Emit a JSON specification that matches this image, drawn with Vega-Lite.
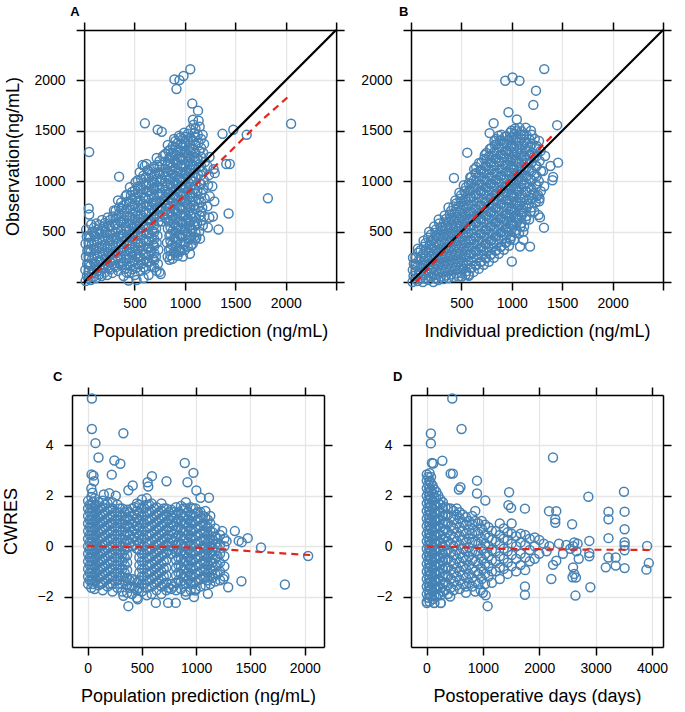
{
"$schema": "https://vega.github.io/schema/vega-lite/v6.json",
"background": "white",
"padding": {"left": 2, "top": 6, "right": 0, "bottom": 0},
"config": {
  "font": "Liberation Sans",
  "view": {"stroke": null},
  "axis": {"labelFontSize": 14, "titleFontSize": 18, "titleFontWeight": "normal", "labelColor": "black", "titleColor": "black", "tickColor": "black", "domainColor": "black", "tickSize": 8, "tickWidth": 1.5, "domainWidth": 1.5, "gridColor": "#e6e6e6", "gridWidth": 1.3, "labelOverlap": false, "labelFlush": false, "labelBound": false, "format": "d"},
  "axisX": {"labelPadding": 6, "titlePadding": 12},
  "axisY": {"labelPadding": 11, "titlePadding": 11},
  "title": {"fontSize": 13, "fontWeight": "bold", "anchor": "start", "frame": "group", "color": "black", "offset": 2},
  "point": {"shape": "circle", "filled": false, "color": "#4682b4", "size": 80, "strokeWidth": 1.5, "opacity": 1}
},
"datasets": {
"diag": [{"x":0,"y":0},{"x":2500,"y":2500}],
"la": [{"x":30,"y":20},{"x":250,"y":205},{"x":500,"y":425},{"x":750,"y":645},{"x":1000,"y":860},{"x":1250,"y":1100},{"x":1500,"y":1345},{"x":1750,"y":1595},{"x":2050,"y":1860}],
"lb": [{"x":50,"y":0},{"x":200,"y":165},{"x":400,"y":385},{"x":600,"y":605},{"x":800,"y":820},{"x":1000,"y":1035},{"x":1200,"y":1250},{"x":1420,"y":1470}],
"lc": [{"x":0,"y":0.02},{"x":250,"y":-0.04},{"x":500,"y":-0.04},{"x":750,"y":-0.03},{"x":1000,"y":-0.06},{"x":1250,"y":-0.12},{"x":1500,"y":-0.2},{"x":1750,"y":-0.27},{"x":2050,"y":-0.35}],
"ld": [{"x":0,"y":-0.02},{"x":500,"y":-0.03},{"x":1000,"y":-0.08},{"x":1500,"y":-0.11},{"x":2000,"y":-0.12},{"x":2500,"y":-0.13},{"x":3000,"y":-0.14},{"x":3500,"y":-0.14},{"x":3950,"y":-0.15}],
"a": [
{"x":15,"y":10},{"x":28,"y":60},{"x":12,"y":120},{"x":30,"y":180},{"x":18,"y":250},{"x":32,"y":310},{"x":14,"y":380},{"x":26,"y":450},{"x":20,"y":520},{"x":45,"y":730},{"x":50,"y":670},{"x":50,"y":1290},
{"x":65,"y":20},{"x":78,"y":90},{"x":62,"y":160},{"x":80,"y":230},{"x":66,"y":300},{"x":76,"y":370},{"x":60,"y":440},{"x":82,"y":500},{"x":70,"y":570},
{"x":118,"y":40},{"x":132,"y":110},{"x":115,"y":175},{"x":135,"y":250},{"x":120,"y":320},{"x":130,"y":390},{"x":112,"y":455},{"x":136,"y":520},{"x":122,"y":580},
{"x":172,"y":60},{"x":188,"y":130},{"x":168,"y":200},{"x":190,"y":270},{"x":176,"y":340},{"x":186,"y":410},{"x":170,"y":480},{"x":192,"y":550},{"x":178,"y":615},
{"x":228,"y":70},{"x":244,"y":140},{"x":222,"y":210},{"x":246,"y":280},{"x":232,"y":350},{"x":240,"y":420},{"x":226,"y":490},{"x":248,"y":560},{"x":234,"y":640},
{"x":282,"y":90},{"x":298,"y":160},{"x":276,"y":230},{"x":300,"y":300},{"x":286,"y":370},{"x":294,"y":440},{"x":280,"y":510},{"x":302,"y":580},{"x":288,"y":650},{"x":296,"y":710},
{"x":338,"y":110},{"x":352,"y":180},{"x":332,"y":250},{"x":356,"y":320},{"x":340,"y":390},{"x":350,"y":460},{"x":334,"y":530},{"x":358,"y":600},{"x":342,"y":670},{"x":348,"y":740},{"x":336,"y":810},{"x":347,"y":1045},
{"x":392,"y":60},{"x":406,"y":130},{"x":388,"y":200},{"x":410,"y":270},{"x":394,"y":340},{"x":404,"y":410},{"x":386,"y":480},{"x":412,"y":550},{"x":396,"y":620},{"x":402,"y":690},{"x":390,"y":760},{"x":410,"y":850},
{"x":448,"y":90},{"x":462,"y":160},{"x":442,"y":230},{"x":466,"y":300},{"x":450,"y":370},{"x":458,"y":440},{"x":444,"y":510},{"x":468,"y":580},{"x":452,"y":650},{"x":460,"y":720},{"x":446,"y":790},{"x":464,"y":860},{"x":454,"y":940},
{"x":502,"y":70},{"x":516,"y":140},{"x":498,"y":210},{"x":520,"y":280},{"x":506,"y":350},{"x":512,"y":420},{"x":496,"y":490},{"x":522,"y":560},{"x":508,"y":630},{"x":514,"y":700},{"x":500,"y":770},{"x":518,"y":840},{"x":504,"y":910},{"x":510,"y":990},
{"x":558,"y":110},{"x":572,"y":180},{"x":552,"y":250},{"x":576,"y":320},{"x":560,"y":390},{"x":568,"y":460},{"x":554,"y":530},{"x":578,"y":600},{"x":562,"y":670},{"x":570,"y":740},{"x":556,"y":810},{"x":574,"y":880},{"x":560,"y":950},{"x":566,"y":1020},{"x":552,"y":1090},{"x":580,"y":1160},{"x":600,"y":1150},{"x":620,"y":1170},
{"x":612,"y":130},{"x":626,"y":200},{"x":606,"y":270},{"x":630,"y":340},{"x":616,"y":410},{"x":622,"y":480},{"x":608,"y":550},{"x":632,"y":620},{"x":614,"y":690},{"x":624,"y":760},{"x":610,"y":830},{"x":628,"y":900},{"x":618,"y":970},{"x":612,"y":1040},{"x":630,"y":1110},{"x":603,"y":1574},
{"x":668,"y":160},{"x":682,"y":230},{"x":662,"y":300},{"x":686,"y":370},{"x":670,"y":440},{"x":678,"y":510},{"x":664,"y":580},{"x":688,"y":650},{"x":672,"y":720},{"x":680,"y":790},{"x":666,"y":860},{"x":684,"y":930},{"x":674,"y":1000},{"x":668,"y":1070},{"x":686,"y":1140},
{"x":718,"y":110},{"x":732,"y":180},{"x":712,"y":250},{"x":736,"y":320},{"x":720,"y":390},{"x":728,"y":460},{"x":714,"y":530},{"x":738,"y":600},{"x":722,"y":670},{"x":730,"y":740},{"x":716,"y":810},{"x":734,"y":880},{"x":724,"y":950},{"x":718,"y":1020},{"x":736,"y":1090},{"x":726,"y":1160},{"x":720,"y":1230},{"x":730,"y":1510},{"x":770,"y":1490},
{"x":760,"y":80},{"x":770,"y":600},{"x":784,"y":670},{"x":764,"y":740},{"x":788,"y":810},{"x":772,"y":880},{"x":780,"y":950},{"x":766,"y":1020},{"x":790,"y":1090},{"x":774,"y":1160},{"x":782,"y":1250},
{"x":828,"y":250},{"x":842,"y":320},{"x":822,"y":390},{"x":846,"y":460},{"x":830,"y":530},{"x":838,"y":600},{"x":824,"y":670},{"x":848,"y":740},{"x":832,"y":810},{"x":840,"y":880},{"x":826,"y":950},{"x":844,"y":1020},{"x":834,"y":1090},{"x":828,"y":1160},{"x":846,"y":1230},{"x":836,"y":1300},{"x":830,"y":1360},{"x":847,"y":220},
{"x":878,"y":230},{"x":892,"y":300},{"x":872,"y":370},{"x":896,"y":440},{"x":880,"y":510},{"x":888,"y":580},{"x":874,"y":650},{"x":898,"y":720},{"x":882,"y":790},{"x":890,"y":860},{"x":876,"y":930},{"x":894,"y":1000},{"x":884,"y":1070},{"x":878,"y":1140},{"x":896,"y":1210},{"x":886,"y":1280},{"x":880,"y":1350},{"x":892,"y":1420},
{"x":928,"y":260},{"x":942,"y":330},{"x":922,"y":400},{"x":946,"y":470},{"x":930,"y":540},{"x":938,"y":610},{"x":924,"y":680},{"x":948,"y":750},{"x":932,"y":820},{"x":940,"y":890},{"x":926,"y":960},{"x":944,"y":1030},{"x":934,"y":1100},{"x":928,"y":1170},{"x":946,"y":1240},{"x":936,"y":1310},{"x":930,"y":1380},{"x":942,"y":1450},
{"x":980,"y":253},{"x":992,"y":370},{"x":972,"y":440},{"x":996,"y":510},{"x":980,"y":580},{"x":988,"y":650},{"x":974,"y":720},{"x":998,"y":790},{"x":982,"y":860},{"x":990,"y":930},{"x":976,"y":1000},{"x":994,"y":1070},{"x":984,"y":1140},{"x":978,"y":1210},{"x":996,"y":1280},{"x":986,"y":1350},{"x":980,"y":1420},{"x":992,"y":1480},
{"x":1028,"y":350},{"x":1042,"y":420},{"x":1022,"y":490},{"x":1046,"y":560},{"x":1030,"y":630},{"x":1038,"y":700},{"x":1024,"y":770},{"x":1048,"y":840},{"x":1032,"y":910},{"x":1040,"y":980},{"x":1026,"y":1050},{"x":1044,"y":1120},{"x":1034,"y":1190},{"x":1028,"y":1260},{"x":1046,"y":1330},{"x":1036,"y":1400},{"x":1030,"y":1470},
{"x":1078,"y":380},{"x":1092,"y":450},{"x":1072,"y":520},{"x":1096,"y":600},{"x":1080,"y":680},{"x":1088,"y":760},{"x":1074,"y":840},{"x":1098,"y":920},{"x":1082,"y":1000},{"x":1090,"y":1080},{"x":1076,"y":1160},{"x":1094,"y":1240},{"x":1084,"y":1320},{"x":1078,"y":1400},{"x":1096,"y":1480},{"x":1086,"y":1560},{"x":1080,"y":1610},
{"x":1113,"y":437},{"x":1142,"y":500},{"x":1122,"y":580},{"x":1146,"y":660},{"x":1130,"y":740},{"x":1138,"y":820},{"x":1124,"y":900},{"x":1148,"y":980},{"x":1132,"y":1060},{"x":1140,"y":1140},{"x":1126,"y":1220},{"x":1144,"y":1300},{"x":1134,"y":1380},{"x":1128,"y":1460},{"x":1146,"y":1540},{"x":1136,"y":1600},
{"x":1178,"y":560},{"x":1192,"y":650},{"x":1172,"y":740},{"x":1196,"y":830},{"x":1180,"y":920},{"x":1188,"y":1010},{"x":1174,"y":1100},{"x":1198,"y":1190},{"x":1182,"y":1280},{"x":1190,"y":1370},{"x":1176,"y":1460},
{"x":1228,"y":540},{"x":1242,"y":640},{"x":1222,"y":750},{"x":1246,"y":850},{"x":1230,"y":960},{"x":1238,"y":1060},{"x":1224,"y":1150},{"x":1244,"y":1240},
{"x":1278,"y":650},{"x":1292,"y":800},{"x":1272,"y":950},{"x":1296,"y":1080},{"x":1284,"y":1120},
{"x":1333,"y":520},{"x":1410,"y":1170},{"x":1445,"y":1170},{"x":1433,"y":680},{"x":1373,"y":1470},{"x":1480,"y":1510},{"x":1613,"y":1460},{"x":2053,"y":1570},{"x":1823,"y":830},
{"x":896,"y":2010},{"x":946,"y":2003},{"x":986,"y":2043},{"x":916,"y":1914},{"x":1053,"y":2110},{"x":1073,"y":1770},{"x":1130,"y":1700},
{"x":950,"y":300},{"x":1000,"y":320},{"x":1050,"y":280},{"x":1100,"y":420},{"x":1150,"y":430},{"x":1060,"y":360},
{"x":440,"y":15},{"x":520,"y":20},{"x":590,"y":40},{"x":640,"y":70},
{"x":45,"y":40},{"x":45,"y":110},{"x":45,"y":180},{"x":45,"y":250},{"x":45,"y":320},{"x":45,"y":390},{"x":45,"y":460},
{"x":97,"y":55},{"x":97,"y":125},{"x":97,"y":195},{"x":97,"y":265},{"x":97,"y":335},{"x":97,"y":405},{"x":97,"y":475},{"x":97,"y":540},
{"x":150,"y":75},{"x":150,"y":145},{"x":150,"y":215},{"x":150,"y":285},{"x":150,"y":355},{"x":150,"y":425},{"x":150,"y":495},{"x":150,"y":565},
{"x":205,"y":95},{"x":205,"y":165},{"x":205,"y":235},{"x":205,"y":305},{"x":205,"y":375},{"x":205,"y":445},{"x":205,"y":515},{"x":205,"y":585},
{"x":258,"y":125},{"x":258,"y":195},{"x":258,"y":265},{"x":258,"y":335},{"x":258,"y":405},{"x":258,"y":475},{"x":258,"y":545},{"x":258,"y":615},
{"x":312,"y":145},{"x":312,"y":215},{"x":312,"y":285},{"x":312,"y":355},{"x":312,"y":425},{"x":312,"y":495},{"x":312,"y":565},{"x":312,"y":635},{"x":312,"y":705},
{"x":368,"y":165},{"x":368,"y":235},{"x":368,"y":305},{"x":368,"y":375},{"x":368,"y":445},{"x":368,"y":515},{"x":368,"y":585},{"x":368,"y":655},{"x":368,"y":725},{"x":368,"y":790},
{"x":422,"y":95},{"x":422,"y":165},{"x":422,"y":235},{"x":422,"y":305},{"x":422,"y":375},{"x":422,"y":445},{"x":422,"y":515},{"x":422,"y":585},{"x":422,"y":655},{"x":422,"y":725},{"x":422,"y":795},{"x":422,"y":865},
{"x":478,"y":125},{"x":478,"y":195},{"x":478,"y":265},{"x":478,"y":335},{"x":478,"y":405},{"x":478,"y":475},{"x":478,"y":545},{"x":478,"y":615},{"x":478,"y":685},{"x":478,"y":755},{"x":478,"y":825},{"x":478,"y":895},
{"x":532,"y":175},{"x":532,"y":245},{"x":532,"y":315},{"x":532,"y":385},{"x":532,"y":455},{"x":532,"y":525},{"x":532,"y":595},{"x":532,"y":665},{"x":532,"y":735},{"x":532,"y":805},{"x":532,"y":875},{"x":532,"y":945},{"x":532,"y":1010},
{"x":588,"y":145},{"x":588,"y":215},{"x":588,"y":285},{"x":588,"y":355},{"x":588,"y":425},{"x":588,"y":495},{"x":588,"y":565},{"x":588,"y":635},{"x":588,"y":705},{"x":588,"y":775},{"x":588,"y":845},{"x":588,"y":915},{"x":588,"y":985},{"x":588,"y":1055},
{"x":642,"y":195},{"x":642,"y":265},{"x":642,"y":335},{"x":642,"y":405},{"x":642,"y":475},{"x":642,"y":545},{"x":642,"y":615},{"x":642,"y":685},{"x":642,"y":755},{"x":642,"y":825},{"x":642,"y":895},{"x":642,"y":965},{"x":642,"y":1035},{"x":642,"y":1100},
{"x":696,"y":145},{"x":696,"y":215},{"x":696,"y":285},{"x":696,"y":355},{"x":696,"y":425},{"x":696,"y":495},{"x":696,"y":565},{"x":696,"y":635},{"x":696,"y":705},{"x":696,"y":775},{"x":696,"y":845},{"x":696,"y":915},{"x":696,"y":985},{"x":696,"y":1055},{"x":696,"y":1125},
{"x":748,"y":100},{"x":748,"y":650},{"x":748,"y":720},{"x":748,"y":790},{"x":748,"y":860},{"x":748,"y":930},{"x":748,"y":1000},{"x":748,"y":1070},{"x":748,"y":1140},{"x":748,"y":1200},
{"x":805,"y":635},{"x":805,"y":705},{"x":805,"y":775},{"x":805,"y":845},{"x":805,"y":915},{"x":805,"y":985},{"x":805,"y":1055},{"x":805,"y":1125},{"x":805,"y":1195},{"x":805,"y":1270},
{"x":856,"y":265},{"x":856,"y":335},{"x":856,"y":405},{"x":856,"y":475},{"x":856,"y":545},{"x":856,"y":615},{"x":856,"y":685},{"x":856,"y":755},{"x":856,"y":825},{"x":856,"y":895},{"x":856,"y":965},{"x":856,"y":1035},{"x":856,"y":1105},{"x":856,"y":1175},{"x":856,"y":1245},{"x":856,"y":1315},
{"x":906,"y":285},{"x":906,"y":355},{"x":906,"y":425},{"x":906,"y":495},{"x":906,"y":565},{"x":906,"y":635},{"x":906,"y":705},{"x":906,"y":775},{"x":906,"y":845},{"x":906,"y":915},{"x":906,"y":985},{"x":906,"y":1055},{"x":906,"y":1125},{"x":906,"y":1195},{"x":906,"y":1265},{"x":906,"y":1335},{"x":906,"y":1400},
{"x":955,"y":315},{"x":955,"y":385},{"x":955,"y":455},{"x":955,"y":525},{"x":955,"y":595},{"x":955,"y":665},{"x":955,"y":735},{"x":955,"y":805},{"x":955,"y":875},{"x":955,"y":945},{"x":955,"y":1015},{"x":955,"y":1085},{"x":955,"y":1155},{"x":955,"y":1225},{"x":955,"y":1295},{"x":955,"y":1365},{"x":955,"y":1435},
{"x":1005,"y":395},{"x":1005,"y":465},{"x":1005,"y":535},{"x":1005,"y":605},{"x":1005,"y":675},{"x":1005,"y":745},{"x":1005,"y":815},{"x":1005,"y":885},{"x":1005,"y":955},{"x":1005,"y":1025},{"x":1005,"y":1095},{"x":1005,"y":1165},{"x":1005,"y":1235},{"x":1005,"y":1305},{"x":1005,"y":1375},{"x":1005,"y":1440},
{"x":1055,"y":455},{"x":1055,"y":525},{"x":1055,"y":595},{"x":1055,"y":665},{"x":1055,"y":735},{"x":1055,"y":805},{"x":1055,"y":875},{"x":1055,"y":945},{"x":1055,"y":1015},{"x":1055,"y":1085},{"x":1055,"y":1155},{"x":1055,"y":1225},{"x":1055,"y":1295},{"x":1055,"y":1365},{"x":1055,"y":1435},{"x":1055,"y":1510},
{"x":1105,"y":490},{"x":1105,"y":560},{"x":1105,"y":640},{"x":1105,"y":720},{"x":1105,"y":800},{"x":1105,"y":880},{"x":1105,"y":960},{"x":1105,"y":1040},{"x":1105,"y":1120},{"x":1105,"y":1200},{"x":1105,"y":1280},{"x":1105,"y":1360},{"x":1105,"y":1440},{"x":1105,"y":1520},
{"x":1160,"y":610},{"x":1160,"y":700},{"x":1160,"y":790},{"x":1160,"y":880},{"x":1160,"y":970},{"x":1160,"y":1060},{"x":1160,"y":1150},{"x":1160,"y":1240},{"x":1160,"y":1330},{"x":1160,"y":1420}
],
"b": [
{"x":15,"y":0},{"x":25,"y":60},{"x":18,"y":120},{"x":28,"y":180},{"x":20,"y":240},
{"x":65,"y":10},{"x":78,"y":80},{"x":62,"y":150},{"x":80,"y":220},{"x":70,"y":290},{"x":68,"y":330},
{"x":118,"y":0},{"x":132,"y":70},{"x":115,"y":140},{"x":135,"y":210},{"x":120,"y":280},{"x":130,"y":350},{"x":125,"y":410},
{"x":172,"y":20},{"x":188,"y":90},{"x":168,"y":160},{"x":190,"y":230},{"x":176,"y":300},{"x":186,"y":370},{"x":170,"y":440},{"x":180,"y":500},
{"x":222,"y":0},{"x":238,"y":70},{"x":218,"y":140},{"x":240,"y":210},{"x":226,"y":280},{"x":236,"y":350},{"x":220,"y":420},{"x":242,"y":490},{"x":230,"y":550},
{"x":272,"y":20},{"x":288,"y":90},{"x":268,"y":160},{"x":290,"y":230},{"x":276,"y":300},{"x":286,"y":370},{"x":270,"y":440},{"x":292,"y":510},{"x":280,"y":580},{"x":275,"y":620},
{"x":322,"y":30},{"x":338,"y":100},{"x":318,"y":170},{"x":340,"y":240},{"x":326,"y":310},{"x":336,"y":380},{"x":320,"y":450},{"x":342,"y":520},{"x":328,"y":590},{"x":334,"y":660},
{"x":372,"y":40},{"x":388,"y":110},{"x":368,"y":180},{"x":390,"y":250},{"x":376,"y":320},{"x":386,"y":390},{"x":370,"y":460},{"x":392,"y":530},{"x":378,"y":600},{"x":384,"y":670},{"x":372,"y":740},
{"x":422,"y":50},{"x":438,"y":120},{"x":418,"y":190},{"x":440,"y":260},{"x":426,"y":330},{"x":436,"y":400},{"x":420,"y":470},{"x":442,"y":540},{"x":428,"y":610},{"x":434,"y":680},{"x":422,"y":750},{"x":440,"y":810},{"x":426,"y":1032},
{"x":472,"y":55},{"x":488,"y":125},{"x":468,"y":195},{"x":490,"y":265},{"x":476,"y":335},{"x":486,"y":405},{"x":470,"y":475},{"x":492,"y":545},{"x":478,"y":615},{"x":484,"y":685},{"x":472,"y":755},{"x":490,"y":825},{"x":480,"y":885},
{"x":505,"y":55},{"x":522,"y":130},{"x":518,"y":200},{"x":540,"y":270},{"x":526,"y":340},{"x":536,"y":410},{"x":520,"y":480},{"x":542,"y":550},{"x":528,"y":620},{"x":534,"y":690},{"x":522,"y":760},{"x":540,"y":830},{"x":530,"y":900},{"x":524,"y":960},
{"x":571,"y":72},{"x":588,"y":140},{"x":568,"y":210},{"x":590,"y":280},{"x":576,"y":350},{"x":586,"y":420},{"x":570,"y":490},{"x":592,"y":560},{"x":578,"y":630},{"x":584,"y":700},{"x":572,"y":770},{"x":590,"y":840},{"x":580,"y":910},{"x":574,"y":980},{"x":588,"y":1040},{"x":558,"y":1283},
{"x":622,"y":100},{"x":638,"y":170},{"x":618,"y":240},{"x":640,"y":310},{"x":626,"y":380},{"x":636,"y":450},{"x":620,"y":520},{"x":642,"y":590},{"x":628,"y":660},{"x":634,"y":730},{"x":622,"y":800},{"x":640,"y":870},{"x":630,"y":940},{"x":624,"y":1010},{"x":638,"y":1080},{"x":626,"y":1120},
{"x":672,"y":130},{"x":688,"y":200},{"x":668,"y":270},{"x":690,"y":340},{"x":676,"y":410},{"x":686,"y":480},{"x":670,"y":550},{"x":692,"y":620},{"x":678,"y":690},{"x":684,"y":760},{"x":672,"y":830},{"x":690,"y":900},{"x":680,"y":970},{"x":674,"y":1040},{"x":688,"y":1110},{"x":676,"y":1180},
{"x":722,"y":170},{"x":738,"y":240},{"x":718,"y":310},{"x":740,"y":380},{"x":726,"y":450},{"x":736,"y":520},{"x":720,"y":590},{"x":742,"y":660},{"x":728,"y":730},{"x":734,"y":800},{"x":722,"y":870},{"x":740,"y":940},{"x":730,"y":1010},{"x":724,"y":1080},{"x":738,"y":1150},{"x":726,"y":1220},{"x":732,"y":1260},
{"x":772,"y":200},{"x":788,"y":270},{"x":768,"y":340},{"x":790,"y":410},{"x":776,"y":480},{"x":786,"y":550},{"x":770,"y":620},{"x":792,"y":690},{"x":778,"y":760},{"x":784,"y":830},{"x":772,"y":900},{"x":790,"y":970},{"x":780,"y":1040},{"x":774,"y":1110},{"x":788,"y":1180},{"x":776,"y":1250},{"x":782,"y":1320},{"x":780,"y":1477},
{"x":822,"y":240},{"x":838,"y":310},{"x":818,"y":380},{"x":840,"y":450},{"x":826,"y":520},{"x":836,"y":590},{"x":820,"y":660},{"x":842,"y":730},{"x":828,"y":800},{"x":834,"y":870},{"x":822,"y":940},{"x":840,"y":1010},{"x":830,"y":1080},{"x":824,"y":1150},{"x":838,"y":1220},{"x":826,"y":1290},{"x":832,"y":1360},{"x":828,"y":1400},{"x":820,"y":1575},
{"x":872,"y":280},{"x":888,"y":350},{"x":868,"y":420},{"x":890,"y":490},{"x":876,"y":560},{"x":886,"y":630},{"x":870,"y":700},{"x":892,"y":770},{"x":878,"y":840},{"x":884,"y":910},{"x":872,"y":980},{"x":890,"y":1050},{"x":880,"y":1120},{"x":874,"y":1190},{"x":888,"y":1260},{"x":876,"y":1330},{"x":882,"y":1400},{"x":870,"y":1450},
{"x":922,"y":320},{"x":938,"y":390},{"x":918,"y":460},{"x":940,"y":530},{"x":926,"y":600},{"x":936,"y":670},{"x":920,"y":740},{"x":942,"y":810},{"x":928,"y":880},{"x":934,"y":950},{"x":922,"y":1020},{"x":940,"y":1090},{"x":930,"y":1160},{"x":924,"y":1230},{"x":938,"y":1300},{"x":926,"y":1370},{"x":932,"y":1440},{"x":935,"y":1997},
{"x":972,"y":360},{"x":988,"y":430},{"x":968,"y":500},{"x":990,"y":570},{"x":976,"y":640},{"x":986,"y":710},{"x":970,"y":780},{"x":992,"y":850},{"x":978,"y":920},{"x":984,"y":990},{"x":972,"y":1060},{"x":990,"y":1130},{"x":980,"y":1200},{"x":974,"y":1270},{"x":988,"y":1340},{"x":976,"y":1410},{"x":982,"y":1480},{"x":967,"y":1684},{"x":1007,"y":2030},
{"x":1022,"y":420},{"x":1038,"y":490},{"x":1018,"y":560},{"x":1040,"y":630},{"x":1026,"y":700},{"x":1036,"y":770},{"x":1020,"y":840},{"x":1042,"y":910},{"x":1028,"y":980},{"x":1034,"y":1050},{"x":1022,"y":1120},{"x":1040,"y":1190},{"x":1030,"y":1260},{"x":1024,"y":1330},{"x":1038,"y":1400},{"x":1026,"y":1470},{"x":1032,"y":1520},{"x":1050,"y":1612},{"x":984,"y":418},{"x":1000,"y":203},
{"x":1072,"y":480},{"x":1088,"y":550},{"x":1068,"y":620},{"x":1090,"y":690},{"x":1076,"y":760},{"x":1086,"y":830},{"x":1070,"y":900},{"x":1092,"y":970},{"x":1078,"y":1040},{"x":1084,"y":1110},{"x":1072,"y":1180},{"x":1090,"y":1250},{"x":1080,"y":1320},{"x":1074,"y":1390},{"x":1088,"y":1460},{"x":1076,"y":1530},{"x":1076,"y":1997},{"x":1082,"y":351},
{"x":1122,"y":550},{"x":1138,"y":620},{"x":1118,"y":690},{"x":1140,"y":760},{"x":1126,"y":830},{"x":1136,"y":900},{"x":1120,"y":970},{"x":1142,"y":1040},{"x":1128,"y":1110},{"x":1134,"y":1180},{"x":1122,"y":1250},{"x":1140,"y":1320},{"x":1130,"y":1390},{"x":1124,"y":1460},{"x":1138,"y":1530},{"x":1115,"y":500},{"x":1115,"y":418},
{"x":1172,"y":620},{"x":1188,"y":700},{"x":1168,"y":780},{"x":1190,"y":860},{"x":1176,"y":940},{"x":1186,"y":1020},{"x":1170,"y":1100},{"x":1192,"y":1180},{"x":1178,"y":1260},{"x":1184,"y":1340},{"x":1172,"y":1420},{"x":1190,"y":1500},{"x":1181,"y":351},
{"x":1222,"y":700},{"x":1238,"y":790},{"x":1218,"y":880},{"x":1240,"y":970},{"x":1226,"y":1060},{"x":1236,"y":1150},{"x":1220,"y":1240},{"x":1242,"y":1330},{"x":1228,"y":1420},{"x":1214,"y":1757},{"x":1240,"y":1898},
{"x":1272,"y":800},{"x":1288,"y":900},{"x":1268,"y":1000},{"x":1290,"y":1100},{"x":1276,"y":1200},{"x":1286,"y":1300},{"x":1270,"y":1400},{"x":1260,"y":862},{"x":1275,"y":829},{"x":1265,"y":664},{"x":1280,"y":641},
{"x":1322,"y":950},{"x":1310,"y":1100},{"x":1330,"y":1250},{"x":1319,"y":539},{"x":1322,"y":2112},
{"x":1450,"y":1556},{"x":1459,"y":1184},{"x":1384,"y":1151},{"x":1410,"y":1042},{"x":1403,"y":1009},{"x":574,"y":62},{"x":541,"y":71},
{"x":45,"y":30},{"x":45,"y":100},{"x":45,"y":170},{"x":45,"y":240},
{"x":95,"y":35},{"x":95,"y":105},{"x":95,"y":175},{"x":95,"y":245},{"x":95,"y":315},
{"x":145,"y":35},{"x":145,"y":105},{"x":145,"y":175},{"x":145,"y":245},{"x":145,"y":315},{"x":145,"y":385},
{"x":197,"y":55},{"x":197,"y":125},{"x":197,"y":195},{"x":197,"y":265},{"x":197,"y":335},{"x":197,"y":405},{"x":197,"y":470},
{"x":247,"y":35},{"x":247,"y":105},{"x":247,"y":175},{"x":247,"y":245},{"x":247,"y":315},{"x":247,"y":385},{"x":247,"y":455},{"x":247,"y":520},
{"x":297,"y":55},{"x":297,"y":125},{"x":297,"y":195},{"x":297,"y":265},{"x":297,"y":335},{"x":297,"y":405},{"x":297,"y":475},{"x":297,"y":545},
{"x":347,"y":65},{"x":347,"y":135},{"x":347,"y":205},{"x":347,"y":275},{"x":347,"y":345},{"x":347,"y":415},{"x":347,"y":485},{"x":347,"y":555},{"x":347,"y":625},
{"x":397,"y":75},{"x":397,"y":145},{"x":397,"y":215},{"x":397,"y":285},{"x":397,"y":355},{"x":397,"y":425},{"x":397,"y":495},{"x":397,"y":565},{"x":397,"y":635},{"x":397,"y":705},
{"x":447,"y":85},{"x":447,"y":155},{"x":447,"y":225},{"x":447,"y":295},{"x":447,"y":365},{"x":447,"y":435},{"x":447,"y":505},{"x":447,"y":575},{"x":447,"y":645},{"x":447,"y":715},{"x":447,"y":780},
{"x":497,"y":90},{"x":497,"y":160},{"x":497,"y":230},{"x":497,"y":300},{"x":497,"y":370},{"x":497,"y":440},{"x":497,"y":510},{"x":497,"y":580},{"x":497,"y":650},{"x":497,"y":720},{"x":497,"y":790},{"x":497,"y":860},
{"x":547,"y":105},{"x":547,"y":175},{"x":547,"y":245},{"x":547,"y":315},{"x":547,"y":385},{"x":547,"y":455},{"x":547,"y":525},{"x":547,"y":595},{"x":547,"y":665},{"x":547,"y":735},{"x":547,"y":805},{"x":547,"y":875},{"x":547,"y":940},
{"x":597,"y":135},{"x":597,"y":205},{"x":597,"y":275},{"x":597,"y":345},{"x":597,"y":415},{"x":597,"y":485},{"x":597,"y":555},{"x":597,"y":625},{"x":597,"y":695},{"x":597,"y":765},{"x":597,"y":835},{"x":597,"y":905},{"x":597,"y":975},{"x":597,"y":1040},
{"x":647,"y":165},{"x":647,"y":235},{"x":647,"y":305},{"x":647,"y":375},{"x":647,"y":445},{"x":647,"y":515},{"x":647,"y":585},{"x":647,"y":655},{"x":647,"y":725},{"x":647,"y":795},{"x":647,"y":865},{"x":647,"y":935},{"x":647,"y":1005},{"x":647,"y":1075},{"x":647,"y":1140},
{"x":697,"y":200},{"x":697,"y":270},{"x":697,"y":340},{"x":697,"y":410},{"x":697,"y":480},{"x":697,"y":550},{"x":697,"y":620},{"x":697,"y":690},{"x":697,"y":760},{"x":697,"y":830},{"x":697,"y":900},{"x":697,"y":970},{"x":697,"y":1040},{"x":697,"y":1110},{"x":697,"y":1180},
{"x":747,"y":235},{"x":747,"y":305},{"x":747,"y":375},{"x":747,"y":445},{"x":747,"y":515},{"x":747,"y":585},{"x":747,"y":655},{"x":747,"y":725},{"x":747,"y":795},{"x":747,"y":865},{"x":747,"y":935},{"x":747,"y":1005},{"x":747,"y":1075},{"x":747,"y":1145},{"x":747,"y":1215},{"x":747,"y":1280},
{"x":797,"y":275},{"x":797,"y":345},{"x":797,"y":415},{"x":797,"y":485},{"x":797,"y":555},{"x":797,"y":625},{"x":797,"y":695},{"x":797,"y":765},{"x":797,"y":835},{"x":797,"y":905},{"x":797,"y":975},{"x":797,"y":1045},{"x":797,"y":1115},{"x":797,"y":1185},{"x":797,"y":1255},{"x":797,"y":1330},
{"x":847,"y":315},{"x":847,"y":385},{"x":847,"y":455},{"x":847,"y":525},{"x":847,"y":595},{"x":847,"y":665},{"x":847,"y":735},{"x":847,"y":805},{"x":847,"y":875},{"x":847,"y":945},{"x":847,"y":1015},{"x":847,"y":1085},{"x":847,"y":1155},{"x":847,"y":1225},{"x":847,"y":1295},{"x":847,"y":1365},{"x":847,"y":1420},
{"x":897,"y":355},{"x":897,"y":425},{"x":897,"y":495},{"x":897,"y":565},{"x":897,"y":635},{"x":897,"y":705},{"x":897,"y":775},{"x":897,"y":845},{"x":897,"y":915},{"x":897,"y":985},{"x":897,"y":1055},{"x":897,"y":1125},{"x":897,"y":1195},{"x":897,"y":1265},{"x":897,"y":1335},{"x":897,"y":1405},{"x":897,"y":1460},
{"x":947,"y":395},{"x":947,"y":465},{"x":947,"y":535},{"x":947,"y":605},{"x":947,"y":675},{"x":947,"y":745},{"x":947,"y":815},{"x":947,"y":885},{"x":947,"y":955},{"x":947,"y":1025},{"x":947,"y":1095},{"x":947,"y":1165},{"x":947,"y":1235},{"x":947,"y":1305},{"x":947,"y":1375},{"x":947,"y":1445},
{"x":997,"y":455},{"x":997,"y":525},{"x":997,"y":595},{"x":997,"y":665},{"x":997,"y":735},{"x":997,"y":805},{"x":997,"y":875},{"x":997,"y":945},{"x":997,"y":1015},{"x":997,"y":1085},{"x":997,"y":1155},{"x":997,"y":1225},{"x":997,"y":1295},{"x":997,"y":1365},{"x":997,"y":1435},{"x":997,"y":1500},
{"x":1047,"y":515},{"x":1047,"y":585},{"x":1047,"y":655},{"x":1047,"y":725},{"x":1047,"y":795},{"x":1047,"y":865},{"x":1047,"y":935},{"x":1047,"y":1005},{"x":1047,"y":1075},{"x":1047,"y":1145},{"x":1047,"y":1215},{"x":1047,"y":1285},{"x":1047,"y":1355},{"x":1047,"y":1425},{"x":1047,"y":1495},
{"x":1097,"y":585},{"x":1097,"y":655},{"x":1097,"y":725},{"x":1097,"y":795},{"x":1097,"y":865},{"x":1097,"y":935},{"x":1097,"y":1005},{"x":1097,"y":1075},{"x":1097,"y":1145},{"x":1097,"y":1215},{"x":1097,"y":1285},{"x":1097,"y":1355},{"x":1097,"y":1425},{"x":1097,"y":1495},
{"x":1147,"y":655},{"x":1147,"y":735},{"x":1147,"y":815},{"x":1147,"y":895},{"x":1147,"y":975},{"x":1147,"y":1055},{"x":1147,"y":1135},{"x":1147,"y":1215},{"x":1147,"y":1295},{"x":1147,"y":1375},{"x":1147,"y":1455},
{"x":1197,"y":740},{"x":1197,"y":830},{"x":1197,"y":920},{"x":1197,"y":1010},{"x":1197,"y":1100},{"x":1197,"y":1190},{"x":1197,"y":1280},{"x":1197,"y":1370},{"x":1197,"y":1460},
{"x":1247,"y":850},{"x":1247,"y":950},{"x":1247,"y":1050},{"x":1247,"y":1150},{"x":1247,"y":1250},{"x":1247,"y":1350}
],
"c": [
{"x":5,"y":-1.5},{"x":5,"y":-1.2},{"x":5,"y":-0.9},{"x":5,"y":-0.6},{"x":5,"y":-0.3},{"x":5,"y":0.0},{"x":5,"y":0.3},{"x":5,"y":0.6},{"x":5,"y":0.9},{"x":5,"y":1.2},{"x":5,"y":1.5},{"x":5,"y":1.8},
{"x":35,"y":-1.65},{"x":35,"y":-1.35},{"x":35,"y":-1.05},{"x":35,"y":-0.75},{"x":35,"y":-0.45},{"x":35,"y":-0.15},{"x":35,"y":0.15},{"x":35,"y":0.45},{"x":35,"y":0.75},{"x":35,"y":1.05},{"x":35,"y":1.35},{"x":35,"y":1.65},{"x":35,"y":1.95},
{"x":65,"y":-1.7},{"x":65,"y":-1.4},{"x":65,"y":-1.1},{"x":65,"y":-0.8},{"x":65,"y":-0.5},{"x":65,"y":-0.2},{"x":65,"y":0.1},{"x":65,"y":0.4},{"x":65,"y":0.7},{"x":65,"y":1.0},{"x":65,"y":1.3},{"x":65,"y":1.6},{"x":65,"y":1.9},
{"x":100,"y":-1.55},{"x":100,"y":-1.25},{"x":100,"y":-0.95},{"x":100,"y":-0.65},{"x":100,"y":-0.35},{"x":100,"y":-0.05},{"x":100,"y":0.25},{"x":100,"y":0.55},{"x":100,"y":0.85},{"x":100,"y":1.15},{"x":100,"y":1.45},{"x":100,"y":1.75},
{"x":140,"y":-1.75},{"x":140,"y":-1.45},{"x":140,"y":-1.15},{"x":140,"y":-0.85},{"x":140,"y":-0.55},{"x":140,"y":-0.25},{"x":140,"y":0.05},{"x":140,"y":0.35},{"x":140,"y":0.65},{"x":140,"y":0.95},{"x":140,"y":1.25},{"x":140,"y":1.55},{"x":140,"y":1.8},
{"x":185,"y":-1.6},{"x":185,"y":-1.3},{"x":185,"y":-1.0},{"x":185,"y":-0.7},{"x":185,"y":-0.4},{"x":185,"y":-0.1},{"x":185,"y":0.2},{"x":185,"y":0.5},{"x":185,"y":0.8},{"x":185,"y":1.1},{"x":185,"y":1.4},{"x":185,"y":1.7},
{"x":230,"y":-1.8},{"x":230,"y":-1.5},{"x":230,"y":-1.2},{"x":230,"y":-0.9},{"x":230,"y":-0.6},{"x":230,"y":-0.3},{"x":230,"y":0.0},{"x":230,"y":0.3},{"x":230,"y":0.6},{"x":230,"y":0.9},{"x":230,"y":1.2},{"x":230,"y":1.5},{"x":230,"y":1.75},
{"x":275,"y":-1.65},{"x":275,"y":-1.35},{"x":275,"y":-1.05},{"x":275,"y":-0.75},{"x":275,"y":-0.45},{"x":275,"y":-0.15},{"x":275,"y":0.15},{"x":275,"y":0.45},{"x":275,"y":0.75},{"x":275,"y":1.05},{"x":275,"y":1.35},{"x":275,"y":1.65},
{"x":320,"y":-1.8},{"x":320,"y":-1.5},{"x":320,"y":-1.2},{"x":320,"y":-0.9},{"x":320,"y":-0.6},{"x":320,"y":-0.3},{"x":320,"y":0.0},{"x":320,"y":0.3},{"x":320,"y":0.6},{"x":320,"y":0.9},{"x":320,"y":1.2},{"x":320,"y":1.5},
{"x":365,"y":-1.85},{"x":365,"y":-1.55},{"x":365,"y":-1.25},{"x":365,"y":-0.95},{"x":365,"y":-0.65},{"x":365,"y":-0.35},{"x":365,"y":-0.05},{"x":365,"y":0.25},{"x":365,"y":0.55},{"x":365,"y":0.85},{"x":365,"y":1.15},{"x":365,"y":1.45},
{"x":410,"y":-1.9},{"x":410,"y":-1.6},{"x":410,"y":-1.3},{"x":410,"y":0.0},{"x":410,"y":0.3},{"x":410,"y":0.6},{"x":410,"y":0.9},{"x":410,"y":1.2},{"x":410,"y":1.5},
{"x":455,"y":-2.05},{"x":455,"y":-1.75},{"x":455,"y":-1.45},{"x":455,"y":-0.1},{"x":455,"y":0.2},{"x":455,"y":0.5},{"x":455,"y":0.8},{"x":455,"y":1.1},{"x":455,"y":1.4},{"x":455,"y":1.7},
{"x":500,"y":-1.8},{"x":500,"y":-1.5},{"x":500,"y":-1.2},{"x":500,"y":-0.9},{"x":500,"y":-0.6},{"x":500,"y":-0.3},{"x":500,"y":0.0},{"x":500,"y":0.3},{"x":500,"y":0.6},{"x":500,"y":0.9},{"x":500,"y":1.2},{"x":500,"y":1.5},{"x":500,"y":1.85},
{"x":545,"y":-1.95},{"x":545,"y":-1.65},{"x":545,"y":-1.35},{"x":545,"y":-1.05},{"x":545,"y":-0.75},{"x":545,"y":-0.45},{"x":545,"y":-0.15},{"x":545,"y":0.15},{"x":545,"y":0.45},{"x":545,"y":0.75},{"x":545,"y":1.05},{"x":545,"y":1.35},{"x":545,"y":1.65},{"x":545,"y":1.9},
{"x":590,"y":-1.9},{"x":590,"y":-1.6},{"x":590,"y":-1.3},{"x":590,"y":-1.0},{"x":590,"y":-0.7},{"x":590,"y":-0.4},{"x":590,"y":-0.1},{"x":590,"y":0.2},{"x":590,"y":0.5},{"x":590,"y":0.8},{"x":590,"y":1.1},{"x":590,"y":1.4},{"x":590,"y":1.7},
{"x":635,"y":-1.75},{"x":635,"y":-1.45},{"x":635,"y":-1.15},{"x":635,"y":-0.85},{"x":635,"y":-0.55},{"x":635,"y":-0.25},{"x":635,"y":0.05},{"x":635,"y":0.35},{"x":635,"y":0.65},{"x":635,"y":0.95},{"x":635,"y":1.25},{"x":635,"y":1.55},
{"x":680,"y":-1.9},{"x":680,"y":-1.6},{"x":680,"y":-1.3},{"x":680,"y":-1.0},{"x":680,"y":-0.7},{"x":680,"y":-0.4},{"x":680,"y":-0.1},{"x":680,"y":0.2},{"x":680,"y":0.5},{"x":680,"y":0.8},{"x":680,"y":1.1},{"x":680,"y":1.4},{"x":680,"y":1.7},
{"x":725,"y":-1.75},{"x":725,"y":-1.45},{"x":725,"y":-1.15},{"x":725,"y":-0.85},{"x":725,"y":-0.55},{"x":725,"y":-0.25},{"x":725,"y":0.05},{"x":725,"y":0.35},{"x":725,"y":0.65},{"x":725,"y":0.95},{"x":725,"y":1.25},{"x":725,"y":1.5},
{"x":770,"y":-1.7},{"x":770,"y":-1.5},{"x":770,"y":-0.3},{"x":770,"y":0.0},{"x":770,"y":0.3},{"x":770,"y":0.6},{"x":770,"y":0.9},{"x":770,"y":1.2},{"x":770,"y":1.45},
{"x":815,"y":-1.75},{"x":815,"y":-1.45},{"x":815,"y":-1.15},{"x":815,"y":-0.85},{"x":815,"y":-0.55},{"x":815,"y":-0.25},{"x":815,"y":0.05},{"x":815,"y":0.35},{"x":815,"y":0.65},{"x":815,"y":0.95},{"x":815,"y":1.25},{"x":815,"y":1.55},
{"x":860,"y":-1.7},{"x":860,"y":-1.4},{"x":860,"y":-1.1},{"x":860,"y":-0.8},{"x":860,"y":-0.5},{"x":860,"y":-0.2},{"x":860,"y":0.1},{"x":860,"y":0.4},{"x":860,"y":0.7},{"x":860,"y":1.0},{"x":860,"y":1.3},{"x":860,"y":1.6},
{"x":905,"y":-1.8},{"x":905,"y":-1.5},{"x":905,"y":-1.2},{"x":905,"y":-0.9},{"x":905,"y":-0.6},{"x":905,"y":-0.3},{"x":905,"y":0.0},{"x":905,"y":0.3},{"x":905,"y":0.6},{"x":905,"y":0.9},{"x":905,"y":1.2},{"x":905,"y":1.5},{"x":905,"y":1.75},
{"x":950,"y":-1.75},{"x":950,"y":-1.45},{"x":950,"y":-1.15},{"x":950,"y":-0.85},{"x":950,"y":-0.55},{"x":950,"y":-0.25},{"x":950,"y":0.05},{"x":950,"y":0.35},{"x":950,"y":0.65},{"x":950,"y":0.95},{"x":950,"y":1.25},{"x":950,"y":1.55},
{"x":995,"y":-1.7},{"x":995,"y":-1.4},{"x":995,"y":-1.1},{"x":995,"y":-0.8},{"x":995,"y":-0.5},{"x":995,"y":-0.2},{"x":995,"y":0.1},{"x":995,"y":0.4},{"x":995,"y":0.7},{"x":995,"y":1.0},{"x":995,"y":1.3},{"x":995,"y":1.5},
{"x":1040,"y":-1.6},{"x":1040,"y":-1.3},{"x":1040,"y":-1.0},{"x":1040,"y":-0.7},{"x":1040,"y":-0.4},{"x":1040,"y":-0.1},{"x":1040,"y":0.2},{"x":1040,"y":0.5},{"x":1040,"y":0.8},{"x":1040,"y":1.1},{"x":1040,"y":1.35},
{"x":1085,"y":-1.55},{"x":1085,"y":-1.25},{"x":1085,"y":-0.95},{"x":1085,"y":-0.65},{"x":1085,"y":-0.35},{"x":1085,"y":-0.05},{"x":1085,"y":0.25},{"x":1085,"y":0.55},{"x":1085,"y":0.85},{"x":1085,"y":1.15},{"x":1085,"y":1.4},
{"x":1130,"y":-1.5},{"x":1130,"y":-1.2},{"x":1130,"y":-0.9},{"x":1130,"y":-0.6},{"x":1130,"y":-0.3},{"x":1130,"y":0.0},{"x":1130,"y":0.3},{"x":1130,"y":0.6},{"x":1130,"y":0.9},{"x":1130,"y":1.2},
{"x":1175,"y":-1.4},{"x":1175,"y":-1.1},{"x":1175,"y":-0.8},{"x":1175,"y":-0.5},{"x":1175,"y":-0.2},{"x":1175,"y":0.1},{"x":1175,"y":0.4},{"x":1175,"y":0.7},
{"x":1220,"y":-1.35},{"x":1220,"y":-1.0},{"x":1220,"y":-0.65},{"x":1220,"y":-0.3},{"x":1220,"y":0.05},{"x":1220,"y":0.45},
{"x":1260,"y":-1.2},{"x":1260,"y":-0.8},{"x":1260,"y":-0.4},{"x":1260,"y":0.0},{"x":1260,"y":0.3},
{"x":20,"y":-1.35},{"x":20,"y":-1.05},{"x":20,"y":-0.75},{"x":20,"y":-0.45},{"x":20,"y":-0.15},{"x":20,"y":0.15},{"x":20,"y":0.45},{"x":20,"y":0.75},{"x":20,"y":1.05},{"x":20,"y":1.35},{"x":20,"y":1.65},
{"x":50,"y":-1.5},{"x":50,"y":-1.2},{"x":50,"y":-0.9},{"x":50,"y":-0.6},{"x":50,"y":-0.3},{"x":50,"y":0.0},{"x":50,"y":0.3},{"x":50,"y":0.6},{"x":50,"y":0.9},{"x":50,"y":1.2},{"x":50,"y":1.5},{"x":50,"y":1.75},
{"x":82,"y":-1.35},{"x":82,"y":-1.05},{"x":82,"y":-0.75},{"x":82,"y":-0.45},{"x":82,"y":-0.15},{"x":82,"y":0.15},{"x":82,"y":0.45},{"x":82,"y":0.75},{"x":82,"y":1.05},{"x":82,"y":1.35},{"x":82,"y":1.65},
{"x":120,"y":-1.5},{"x":120,"y":-1.2},{"x":120,"y":-0.9},{"x":120,"y":-0.6},{"x":120,"y":-0.3},{"x":120,"y":0.0},{"x":120,"y":0.3},{"x":120,"y":0.6},{"x":120,"y":0.9},{"x":120,"y":1.2},{"x":120,"y":1.5},
{"x":162,"y":-1.35},{"x":162,"y":-1.05},{"x":162,"y":-0.75},{"x":162,"y":-0.45},{"x":162,"y":-0.15},{"x":162,"y":0.15},{"x":162,"y":0.45},{"x":162,"y":0.75},{"x":162,"y":1.05},{"x":162,"y":1.35},{"x":162,"y":1.65},
{"x":207,"y":-1.5},{"x":207,"y":-1.2},{"x":207,"y":-0.9},{"x":207,"y":-0.6},{"x":207,"y":-0.3},{"x":207,"y":0.0},{"x":207,"y":0.3},{"x":207,"y":0.6},{"x":207,"y":0.9},{"x":207,"y":1.2},{"x":207,"y":1.5},
{"x":252,"y":-1.35},{"x":252,"y":-1.05},{"x":252,"y":-0.75},{"x":252,"y":-0.45},{"x":252,"y":-0.15},{"x":252,"y":0.15},{"x":252,"y":0.45},{"x":252,"y":0.75},{"x":252,"y":1.05},{"x":252,"y":1.35},
{"x":297,"y":-1.5},{"x":297,"y":-1.2},{"x":297,"y":-0.9},{"x":297,"y":-0.6},{"x":297,"y":-0.3},{"x":297,"y":0.0},{"x":297,"y":0.3},{"x":297,"y":0.6},{"x":297,"y":0.9},{"x":297,"y":1.2},{"x":297,"y":1.5},
{"x":342,"y":-1.35},{"x":342,"y":-1.05},{"x":342,"y":-0.75},{"x":342,"y":-0.45},{"x":342,"y":-0.15},{"x":342,"y":0.15},{"x":342,"y":0.45},{"x":342,"y":0.75},{"x":342,"y":1.05},{"x":342,"y":1.35},
{"x":387,"y":-1.65},{"x":387,"y":-1.35},{"x":387,"y":0.15},{"x":387,"y":0.45},{"x":387,"y":0.75},{"x":387,"y":1.05},{"x":387,"y":1.35},
{"x":432,"y":-1.65},{"x":432,"y":-1.35},{"x":432,"y":0.05},{"x":432,"y":0.35},{"x":432,"y":0.65},{"x":432,"y":0.95},{"x":432,"y":1.25},{"x":432,"y":1.55},
{"x":477,"y":-1.65},{"x":477,"y":-1.35},{"x":477,"y":-1.05},{"x":477,"y":-0.75},{"x":477,"y":-0.45},{"x":477,"y":-0.15},{"x":477,"y":0.15},{"x":477,"y":0.45},{"x":477,"y":0.75},{"x":477,"y":1.05},{"x":477,"y":1.35},{"x":477,"y":1.65},
{"x":522,"y":-1.5},{"x":522,"y":-1.2},{"x":522,"y":-0.9},{"x":522,"y":-0.6},{"x":522,"y":-0.3},{"x":522,"y":0.0},{"x":522,"y":0.3},{"x":522,"y":0.6},{"x":522,"y":0.9},{"x":522,"y":1.2},{"x":522,"y":1.5},
{"x":567,"y":-1.35},{"x":567,"y":-1.05},{"x":567,"y":-0.75},{"x":567,"y":-0.45},{"x":567,"y":-0.15},{"x":567,"y":0.15},{"x":567,"y":0.45},{"x":567,"y":0.75},{"x":567,"y":1.05},{"x":567,"y":1.35},{"x":567,"y":1.65},
{"x":612,"y":-1.5},{"x":612,"y":-1.2},{"x":612,"y":-0.9},{"x":612,"y":-0.6},{"x":612,"y":-0.3},{"x":612,"y":0.0},{"x":612,"y":0.3},{"x":612,"y":0.6},{"x":612,"y":0.9},{"x":612,"y":1.2},{"x":612,"y":1.5},
{"x":657,"y":-1.35},{"x":657,"y":-1.05},{"x":657,"y":-0.75},{"x":657,"y":-0.45},{"x":657,"y":-0.15},{"x":657,"y":0.15},{"x":657,"y":0.45},{"x":657,"y":0.75},{"x":657,"y":1.05},{"x":657,"y":1.35},
{"x":702,"y":-1.5},{"x":702,"y":-1.2},{"x":702,"y":-0.9},{"x":702,"y":-0.6},{"x":702,"y":-0.3},{"x":702,"y":0.0},{"x":702,"y":0.3},{"x":702,"y":0.6},{"x":702,"y":0.9},{"x":702,"y":1.2},{"x":702,"y":1.5},
{"x":747,"y":-1.65},{"x":747,"y":-0.15},{"x":747,"y":0.15},{"x":747,"y":0.45},{"x":747,"y":0.75},{"x":747,"y":1.05},{"x":747,"y":1.35},
{"x":792,"y":-1.6},{"x":792,"y":-0.1},{"x":792,"y":0.2},{"x":792,"y":0.5},{"x":792,"y":0.8},{"x":792,"y":1.1},{"x":792,"y":1.35},
{"x":837,"y":-1.35},{"x":837,"y":-1.05},{"x":837,"y":-0.75},{"x":837,"y":-0.45},{"x":837,"y":-0.15},{"x":837,"y":0.15},{"x":837,"y":0.45},{"x":837,"y":0.75},{"x":837,"y":1.05},{"x":837,"y":1.35},
{"x":882,"y":-1.5},{"x":882,"y":-1.2},{"x":882,"y":-0.9},{"x":882,"y":-0.6},{"x":882,"y":-0.3},{"x":882,"y":0.0},{"x":882,"y":0.3},{"x":882,"y":0.6},{"x":882,"y":0.9},{"x":882,"y":1.2},{"x":882,"y":1.5},
{"x":927,"y":-1.35},{"x":927,"y":-1.05},{"x":927,"y":-0.75},{"x":927,"y":-0.45},{"x":927,"y":-0.15},{"x":927,"y":0.15},{"x":927,"y":0.45},{"x":927,"y":0.75},{"x":927,"y":1.05},{"x":927,"y":1.35},
{"x":972,"y":-1.5},{"x":972,"y":-1.2},{"x":972,"y":-0.9},{"x":972,"y":-0.6},{"x":972,"y":-0.3},{"x":972,"y":0.0},{"x":972,"y":0.3},{"x":972,"y":0.6},{"x":972,"y":0.9},{"x":972,"y":1.2},{"x":972,"y":1.5},
{"x":1017,"y":-1.35},{"x":1017,"y":-1.05},{"x":1017,"y":-0.75},{"x":1017,"y":-0.45},{"x":1017,"y":-0.15},{"x":1017,"y":0.15},{"x":1017,"y":0.45},{"x":1017,"y":0.75},{"x":1017,"y":1.05},{"x":1017,"y":1.35},
{"x":1062,"y":-1.2},{"x":1062,"y":-0.9},{"x":1062,"y":-0.6},{"x":1062,"y":-0.3},{"x":1062,"y":0.0},{"x":1062,"y":0.3},{"x":1062,"y":0.6},{"x":1062,"y":0.9},{"x":1062,"y":1.2},
{"x":1107,"y":-1.35},{"x":1107,"y":-1.05},{"x":1107,"y":-0.75},{"x":1107,"y":-0.45},{"x":1107,"y":-0.15},{"x":1107,"y":0.15},{"x":1107,"y":0.45},{"x":1107,"y":0.75},{"x":1107,"y":1.05},
{"x":1152,"y":-1.25},{"x":1152,"y":-0.95},{"x":1152,"y":-0.65},{"x":1152,"y":-0.35},{"x":1152,"y":-0.05},{"x":1152,"y":0.25},{"x":1152,"y":0.55},
{"x":1197,"y":-1.1},{"x":1197,"y":-0.75},{"x":1197,"y":-0.4},{"x":1197,"y":-0.05},{"x":1197,"y":0.3},
{"x":40,"y":5.86},{"x":40,"y":4.65},{"x":330,"y":4.48},{"x":73,"y":4.09},{"x":101,"y":3.52},{"x":247,"y":3.4},{"x":302,"y":3.27},{"x":223,"y":2.84},{"x":37,"y":2.85},{"x":55,"y":2.8},{"x":60,"y":2.58},{"x":35,"y":2.29},{"x":45,"y":2.12},
{"x":895,"y":3.3},{"x":975,"y":2.91},{"x":920,"y":2.54},{"x":593,"y":2.78},{"x":553,"y":2.54},{"x":559,"y":2.37},{"x":727,"y":2.58},{"x":416,"y":2.41},{"x":376,"y":2.22},{"x":1002,"y":2.21},{"x":1118,"y":1.92},{"x":1041,"y":1.92},
{"x":150,"y":2.05},{"x":260,"y":2.0},{"x":200,"y":2.1},
{"x":1356,"y":0.6},{"x":1392,"y":0.21},{"x":1475,"y":0.32},{"x":1420,"y":0.16},{"x":1597,"y":-0.05},{"x":1417,"y":-1.39},{"x":1295,"y":-1.63},{"x":1250,"y":-1.3},{"x":1280,"y":0.2},{"x":1240,"y":0.6},
{"x":376,"y":-2.38},{"x":629,"y":-2.25},{"x":742,"y":-2.25},{"x":812,"y":-2.25},{"x":330,"y":-1.97},{"x":462,"y":-2.11},{"x":904,"y":-1.93},{"x":980,"y":-2.02},{"x":1108,"y":-1.89},{"x":993,"y":-1.76},
{"x":1817,"y":-1.52},{"x":2031,"y":-0.39}
],
"d": [
{"x":5,"y":-2.2},{"x":5,"y":-1.9},{"x":5,"y":-1.6},{"x":5,"y":-1.3},{"x":5,"y":-1.0},{"x":5,"y":-0.7},{"x":5,"y":-0.4},{"x":5,"y":-0.1},{"x":5,"y":0.2},{"x":5,"y":0.5},{"x":5,"y":0.8},{"x":5,"y":1.1},{"x":5,"y":1.4},{"x":5,"y":1.7},{"x":5,"y":2.0},{"x":5,"y":2.3},{"x":5,"y":2.6},{"x":5,"y":2.85},
{"x":30,"y":-2.05},{"x":30,"y":-1.75},{"x":30,"y":-1.45},{"x":30,"y":-1.15},{"x":30,"y":-0.85},{"x":30,"y":-0.55},{"x":30,"y":-0.25},{"x":30,"y":0.05},{"x":30,"y":0.35},{"x":30,"y":0.65},{"x":30,"y":0.95},{"x":30,"y":1.25},{"x":30,"y":1.55},{"x":30,"y":1.85},{"x":30,"y":2.15},{"x":30,"y":2.45},{"x":30,"y":2.75},
{"x":55,"y":-2.2},{"x":55,"y":-1.9},{"x":55,"y":-1.6},{"x":55,"y":-1.3},{"x":55,"y":-1.0},{"x":55,"y":-0.7},{"x":55,"y":-0.4},{"x":55,"y":-0.1},{"x":55,"y":0.2},{"x":55,"y":0.5},{"x":55,"y":0.8},{"x":55,"y":1.1},{"x":55,"y":1.4},{"x":55,"y":1.7},{"x":55,"y":2.0},{"x":55,"y":2.3},{"x":55,"y":2.6},{"x":55,"y":2.9},
{"x":80,"y":-2.0},{"x":80,"y":-1.7},{"x":80,"y":-1.4},{"x":80,"y":-1.1},{"x":80,"y":-0.8},{"x":80,"y":-0.5},{"x":80,"y":-0.2},{"x":80,"y":0.1},{"x":80,"y":0.4},{"x":80,"y":0.7},{"x":80,"y":1.0},{"x":80,"y":1.3},{"x":80,"y":1.6},{"x":80,"y":1.9},{"x":80,"y":2.2},{"x":80,"y":2.5},{"x":80,"y":2.75},
{"x":110,"y":-2.1},{"x":110,"y":-1.8},{"x":110,"y":-1.5},{"x":110,"y":-1.2},{"x":110,"y":-0.9},{"x":110,"y":-0.6},{"x":110,"y":-0.3},{"x":110,"y":0.0},{"x":110,"y":0.3},{"x":110,"y":0.6},{"x":110,"y":0.9},{"x":110,"y":1.2},{"x":110,"y":1.5},{"x":110,"y":1.8},{"x":110,"y":2.1},{"x":110,"y":2.4},
{"x":140,"y":-2.25},{"x":140,"y":-1.95},{"x":140,"y":-1.65},{"x":140,"y":-1.35},{"x":140,"y":-1.05},{"x":140,"y":-0.75},{"x":140,"y":-0.45},{"x":140,"y":-0.15},{"x":140,"y":0.15},{"x":140,"y":0.45},{"x":140,"y":0.75},{"x":140,"y":1.05},{"x":140,"y":1.35},{"x":140,"y":1.65},{"x":140,"y":1.95},{"x":140,"y":2.25},
{"x":175,"y":-2.0},{"x":175,"y":-1.7},{"x":175,"y":-1.4},{"x":175,"y":-1.1},{"x":175,"y":-0.8},{"x":175,"y":-0.5},{"x":175,"y":-0.2},{"x":175,"y":0.1},{"x":175,"y":0.4},{"x":175,"y":0.7},{"x":175,"y":1.0},{"x":175,"y":1.3},{"x":175,"y":1.6},{"x":175,"y":1.9},{"x":175,"y":2.15},
{"x":210,"y":-1.9},{"x":210,"y":-1.6},{"x":210,"y":-1.3},{"x":210,"y":-1.0},{"x":210,"y":-0.7},{"x":210,"y":-0.4},{"x":210,"y":-0.1},{"x":210,"y":0.2},{"x":210,"y":0.5},{"x":210,"y":0.8},{"x":210,"y":1.1},{"x":210,"y":1.4},{"x":210,"y":1.7},{"x":210,"y":2.0},
{"x":250,"y":-2.25},{"x":250,"y":-1.95},{"x":250,"y":-1.65},{"x":250,"y":-1.35},{"x":250,"y":-1.05},{"x":250,"y":-0.75},{"x":250,"y":-0.45},{"x":250,"y":-0.15},{"x":250,"y":0.15},{"x":250,"y":0.45},{"x":250,"y":0.75},{"x":250,"y":1.05},{"x":250,"y":1.35},{"x":250,"y":1.65},{"x":250,"y":1.85},
{"x":290,"y":-1.8},{"x":290,"y":-1.5},{"x":290,"y":-1.2},{"x":290,"y":-0.9},{"x":290,"y":-0.6},{"x":290,"y":-0.3},{"x":290,"y":0.0},{"x":290,"y":0.3},{"x":290,"y":0.6},{"x":290,"y":0.9},{"x":290,"y":1.2},{"x":290,"y":1.5},{"x":290,"y":1.75},
{"x":335,"y":-1.75},{"x":335,"y":-1.45},{"x":335,"y":-1.15},{"x":335,"y":-0.85},{"x":335,"y":-0.55},{"x":335,"y":-0.25},{"x":335,"y":0.05},{"x":335,"y":0.35},{"x":335,"y":0.65},{"x":335,"y":0.95},{"x":335,"y":1.25},{"x":335,"y":1.55},
{"x":380,"y":-1.9},{"x":380,"y":-1.55},{"x":380,"y":-1.2},{"x":380,"y":-0.85},{"x":380,"y":-0.5},{"x":380,"y":-0.15},{"x":380,"y":0.2},{"x":380,"y":0.55},{"x":380,"y":0.9},{"x":380,"y":1.25},{"x":380,"y":1.5},
{"x":430,"y":-1.65},{"x":430,"y":-1.3},{"x":430,"y":-0.95},{"x":430,"y":-0.6},{"x":430,"y":-0.25},{"x":430,"y":0.1},{"x":430,"y":0.45},{"x":430,"y":0.8},{"x":430,"y":1.15},{"x":430,"y":1.5},
{"x":480,"y":-1.75},{"x":480,"y":-1.4},{"x":480,"y":-1.05},{"x":480,"y":-0.7},{"x":480,"y":-0.35},{"x":480,"y":0.0},{"x":480,"y":0.35},{"x":480,"y":0.7},{"x":480,"y":1.05},{"x":480,"y":1.4},
{"x":535,"y":-1.55},{"x":535,"y":-1.2},{"x":535,"y":-0.85},{"x":535,"y":-0.5},{"x":535,"y":-0.15},{"x":535,"y":0.2},{"x":535,"y":0.55},{"x":535,"y":0.9},{"x":535,"y":1.25},{"x":535,"y":1.5},
{"x":590,"y":-1.7},{"x":590,"y":-1.35},{"x":590,"y":-1.0},{"x":590,"y":-0.65},{"x":590,"y":-0.3},{"x":590,"y":0.05},{"x":590,"y":0.4},{"x":590,"y":0.75},{"x":590,"y":1.1},{"x":590,"y":1.35},
{"x":645,"y":-1.5},{"x":645,"y":-1.15},{"x":645,"y":-0.8},{"x":645,"y":-0.45},{"x":645,"y":-0.1},{"x":645,"y":0.25},{"x":645,"y":0.6},{"x":645,"y":0.95},{"x":645,"y":1.25},
{"x":700,"y":-1.6},{"x":700,"y":-1.25},{"x":700,"y":-0.9},{"x":700,"y":-0.55},{"x":700,"y":-0.2},{"x":700,"y":0.15},{"x":700,"y":0.5},{"x":700,"y":0.85},{"x":700,"y":1.15},
{"x":755,"y":-1.45},{"x":755,"y":-1.1},{"x":755,"y":-0.75},{"x":755,"y":-0.4},{"x":755,"y":-0.05},{"x":755,"y":0.3},{"x":755,"y":0.65},{"x":755,"y":1.0},
{"x":810,"y":-1.6},{"x":810,"y":-1.25},{"x":810,"y":-0.9},{"x":810,"y":-0.55},{"x":810,"y":-0.2},{"x":810,"y":0.15},{"x":810,"y":0.5},{"x":810,"y":0.85},{"x":810,"y":1.2},
{"x":865,"y":-1.8},{"x":865,"y":-1.4},{"x":865,"y":-1.0},{"x":865,"y":-0.6},{"x":865,"y":-0.2},{"x":865,"y":0.2},{"x":865,"y":0.6},{"x":865,"y":1.0},{"x":865,"y":1.4},
{"x":920,"y":-1.5},{"x":920,"y":-1.1},{"x":920,"y":-0.7},{"x":920,"y":-0.3},{"x":920,"y":0.1},{"x":920,"y":0.5},{"x":920,"y":0.9},
{"x":980,"y":-1.3},{"x":980,"y":-0.9},{"x":980,"y":-0.5},{"x":980,"y":-0.1},{"x":980,"y":0.3},{"x":980,"y":0.7},{"x":980,"y":1.0},
{"x":1040,"y":-1.5},{"x":1040,"y":-1.1},{"x":1040,"y":-0.7},{"x":1040,"y":-0.3},{"x":1040,"y":0.1},{"x":1040,"y":0.45},{"x":1040,"y":0.85},
{"x":1100,"y":-1.2},{"x":1100,"y":-0.8},{"x":1100,"y":-0.4},{"x":1100,"y":0.0},{"x":1100,"y":0.35},{"x":1100,"y":0.75},
{"x":1160,"y":-1.45},{"x":1160,"y":-1.0},{"x":1160,"y":-0.55},{"x":1160,"y":-0.15},{"x":1160,"y":0.25},{"x":1160,"y":0.6},
{"x":1230,"y":-1.0},{"x":1230,"y":-0.6},{"x":1230,"y":-0.2},{"x":1230,"y":0.2},{"x":1230,"y":0.6},
{"x":1300,"y":-1.3},{"x":1300,"y":-0.85},{"x":1300,"y":-0.4},{"x":1300,"y":0.05},{"x":1300,"y":0.45},{"x":1300,"y":0.9},
{"x":1370,"y":-0.9},{"x":1370,"y":-0.5},{"x":1370,"y":-0.1},{"x":1370,"y":0.3},{"x":1370,"y":0.7},
{"x":1440,"y":-1.1},{"x":1440,"y":-0.65},{"x":1440,"y":-0.2},{"x":1440,"y":0.25},{"x":1440,"y":0.55},
{"x":1510,"y":-0.8},{"x":1510,"y":-0.35},{"x":1510,"y":0.1},{"x":1510,"y":0.5},{"x":1510,"y":0.9},
{"x":1590,"y":-1.0},{"x":1590,"y":-0.5},{"x":1590,"y":0.0},{"x":1590,"y":0.4},
{"x":1670,"y":-0.75},{"x":1670,"y":-0.3},{"x":1670,"y":0.15},{"x":1670,"y":0.5},
{"x":1750,"y":-0.95},{"x":1750,"y":-0.45},{"x":1750,"y":0.05},{"x":1750,"y":0.45},
{"x":1830,"y":-0.6},{"x":1830,"y":-0.15},{"x":1830,"y":0.3},
{"x":1920,"y":-0.5},{"x":1920,"y":0.0},{"x":1920,"y":0.35},
{"x":2000,"y":-0.3},{"x":2000,"y":0.25},
{"x":2080,"y":0.1},{"x":2130,"y":-0.2},{"x":2180,"y":0.0},{"x":2350,"y":0.1},{"x":2420,"y":-0.3},{"x":2480,"y":0.05},{"x":2550,"y":-0.1},{"x":2620,"y":0.15},{"x":2680,"y":0.1},{"x":2700,"y":-0.5},{"x":2660,"y":-0.2},{"x":2600,"y":0.0},
{"x":457,"y":5.86},{"x":622,"y":4.65},{"x":77,"y":4.47},{"x":77,"y":4.08},{"x":2244,"y":3.52},{"x":281,"y":3.39},{"x":96,"y":3.3},{"x":120,"y":3.28},{"x":428,"y":2.88},{"x":468,"y":2.88},{"x":575,"y":2.25},{"x":603,"y":2.34},{"x":896,"y":2.6},{"x":1465,"y":2.14},{"x":2871,"y":1.96},{"x":3503,"y":2.16},
{"x":3228,"y":1.37},{"x":3228,"y":1.07},{"x":3514,"y":1.37},{"x":3514,"y":0.67},{"x":2173,"y":1.39},{"x":2302,"y":1.39},{"x":2284,"y":1.07},{"x":2284,"y":0.93},{"x":1746,"y":1.49},{"x":1453,"y":1.63},{"x":1500,"y":1.52},{"x":896,"y":2.09},{"x":1043,"y":1.81},{"x":2583,"y":0.87},{"x":2888,"y":0.21},{"x":3228,"y":0.32},{"x":3514,"y":0.16},{"x":3514,"y":0.03},{"x":3913,"y":0.01},
{"x":3943,"y":-0.67},{"x":3901,"y":-0.93},{"x":3180,"y":-0.84},{"x":3356,"y":-0.77},{"x":3514,"y":-0.87},{"x":3228,"y":-0.45},{"x":3356,"y":-0.45},{"x":3514,"y":-0.16},{"x":2906,"y":-1.63},{"x":2642,"y":-1.96},{"x":2600,"y":-0.84},{"x":2620,"y":-1.1},{"x":2650,"y":-1.24},{"x":2590,"y":-1.23},{"x":2214,"y":-1.3},{"x":2244,"y":-0.74},{"x":2302,"y":-0.58},{"x":2888,"y":-0.4},{"x":2888,"y":-0.27},
{"x":1746,"y":-1.6},{"x":1746,"y":-1.93},{"x":1084,"y":-2.38},{"x":7,"y":-2.26},{"x":135,"y":-2.26},{"x":253,"y":-2.26},{"x":1000,"y":-1.85},{"x":1050,"y":-1.95},{"x":960,"y":-1.75},{"x":700,"y":-1.85},{"x":420,"y":-2.0}
]
},
"columns": 2,
"align": "each",
"center": true,
"spacing": {"row": 31, "column": 3},
"concat": [
{
"width": 252, "height": 252,
"title": {"text": "A", "dx": -14},
"resolve": {"axis": {"x": "independent", "y": "independent"}},
"layer": [
{"data": {"name": "a"}, "mark": {"type": "point"},
 "encoding": {
  "x": {"field": "x", "type": "quantitative", "scale": {"domain": [0, 2500], "nice": false, "zero": false}, "axis": {"orient": "bottom", "values": [0,500,1000,1500,2000,2500], "labelExpr": "datum.value == 0 || datum.value == 2500 ? '' : datum.label", "title": "Population prediction (ng/mL)", "grid": true}},
  "y": {"field": "y", "type": "quantitative", "scale": {"domain": [0, 2500], "nice": false, "zero": false}, "axis": {"orient": "left", "values": [0,500,1000,1500,2000,2500], "labelExpr": "datum.value == 0 || datum.value == 2500 ? '' : datum.label", "title": "Observation(ng/mL)", "grid": true}}
 }},
{"data": {"name": "diag"}, "mark": {"type": "line", "color": "black", "strokeWidth": 2.2},
 "encoding": {"x": {"field": "x", "type": "quantitative", "axis": null}, "y": {"field": "y", "type": "quantitative", "axis": null}}},
{"data": {"name": "la"}, "mark": {"type": "line", "color": "#e2261c", "strokeWidth": 2.2, "strokeDash": [7, 5]},
 "encoding": {
  "x": {"field": "x", "type": "quantitative", "axis": {"orient": "top", "values": [0,500,1000,1500,2000,2500], "labels": false, "labelPadding": 0, "title": null, "grid": false}},
  "y": {"field": "y", "type": "quantitative", "axis": {"orient": "right", "values": [0,500,1000,1500,2000,2500], "labels": false, "labelPadding": 0, "title": null, "grid": false}}
 }}
]
},
{
"width": 252, "height": 252,
"title": {"text": "B", "dx": -12},
"resolve": {"axis": {"x": "independent", "y": "independent"}},
"layer": [
{"data": {"name": "b"}, "mark": {"type": "point"},
 "encoding": {
  "x": {"field": "x", "type": "quantitative", "scale": {"domain": [0, 2500], "nice": false, "zero": false}, "axis": {"orient": "bottom", "values": [0,500,1000,1500,2000,2500], "labelExpr": "datum.value == 0 || datum.value == 2500 ? '' : datum.label", "title": "Individual prediction (ng/mL)", "grid": true}},
  "y": {"field": "y", "type": "quantitative", "scale": {"domain": [0, 2500], "nice": false, "zero": false}, "axis": {"orient": "left", "values": [0,500,1000,1500,2000,2500], "labelExpr": "datum.value == 0 || datum.value == 2500 ? '' : datum.label", "title": null, "grid": true}}
 }},
{"data": {"name": "diag"}, "mark": {"type": "line", "color": "black", "strokeWidth": 2.2},
 "encoding": {"x": {"field": "x", "type": "quantitative", "axis": null}, "y": {"field": "y", "type": "quantitative", "axis": null}}},
{"data": {"name": "lb"}, "mark": {"type": "line", "color": "#e2261c", "strokeWidth": 2.2, "strokeDash": [7, 5]},
 "encoding": {
  "x": {"field": "x", "type": "quantitative", "axis": {"orient": "top", "values": [0,500,1000,1500,2000,2500], "labels": false, "labelPadding": 0, "title": null, "grid": false}},
  "y": {"field": "y", "type": "quantitative", "axis": {"orient": "right", "values": [0,500,1000,1500,2000,2500], "labels": false, "labelPadding": 0, "title": null, "grid": false}}
 }}
]
},
{
"width": 252, "height": 252,
"title": {"text": "C", "dx": -19},
"resolve": {"axis": {"x": "independent", "y": "independent"}},
"layer": [
{"data": {"name": "c"}, "mark": {"type": "point"},
 "encoding": {
  "x": {"field": "x", "type": "quantitative", "scale": {"domain": [-143, 2177], "nice": false, "zero": false}, "axis": {"orient": "bottom", "values": [0,500,1000,1500,2000], "title": "Population prediction (ng/mL)", "grid": true}},
  "y": {"field": "y", "type": "quantitative", "scale": {"domain": [-4, 6], "nice": false, "zero": false}, "axis": {"orient": "left", "values": [-2,0,2,4], "title": "CWRES", "grid": true, "titlePadding": 17}}
 }},
{"mark": {"type": "rule", "color": "black", "strokeWidth": 2.2},
 "encoding": {"y": {"datum": 0, "type": "quantitative", "axis": null}}},
{"data": {"name": "lc"}, "mark": {"type": "line", "color": "#e2261c", "strokeWidth": 2.2, "strokeDash": [7, 5]},
 "encoding": {
  "x": {"field": "x", "type": "quantitative", "axis": {"orient": "top", "values": [0,500,1000,1500,2000], "labels": false, "labelPadding": 0, "title": null, "grid": false}},
  "y": {"field": "y", "type": "quantitative", "axis": {"orient": "right", "values": [-2,0,2,4], "labels": false, "labelPadding": 0, "title": null, "grid": false, "minExtent": 33}}
 }}
]
},
{
"width": 252, "height": 252,
"title": {"text": "D", "dx": -18},
"resolve": {"axis": {"x": "independent", "y": "independent"}},
"layer": [
{"data": {"name": "d"}, "mark": {"type": "point"},
 "encoding": {
  "x": {"field": "x", "type": "quantitative", "scale": {"domain": [-275, 4195], "nice": false, "zero": false}, "axis": {"orient": "bottom", "values": [0,1000,2000,3000,4000], "title": "Postoperative days (days)", "grid": true}},
  "y": {"field": "y", "type": "quantitative", "scale": {"domain": [-4, 6], "nice": false, "zero": false}, "axis": {"orient": "left", "values": [-2,0,2,4], "title": null, "grid": true}}
 }},
{"mark": {"type": "rule", "color": "black", "strokeWidth": 2.2},
 "encoding": {"y": {"datum": 0, "type": "quantitative", "axis": null}}},
{"data": {"name": "ld"}, "mark": {"type": "line", "color": "#e2261c", "strokeWidth": 2.2, "strokeDash": [7, 5]},
 "encoding": {
  "x": {"field": "x", "type": "quantitative", "axis": {"orient": "top", "values": [0,1000,2000,3000,4000], "labels": false, "labelPadding": 0, "title": null, "grid": false}},
  "y": {"field": "y", "type": "quantitative", "axis": {"orient": "right", "values": [-2,0,2,4], "labels": false, "labelPadding": 0, "title": null, "grid": false, "minExtent": 20}}
 }}
]
}
]
}
